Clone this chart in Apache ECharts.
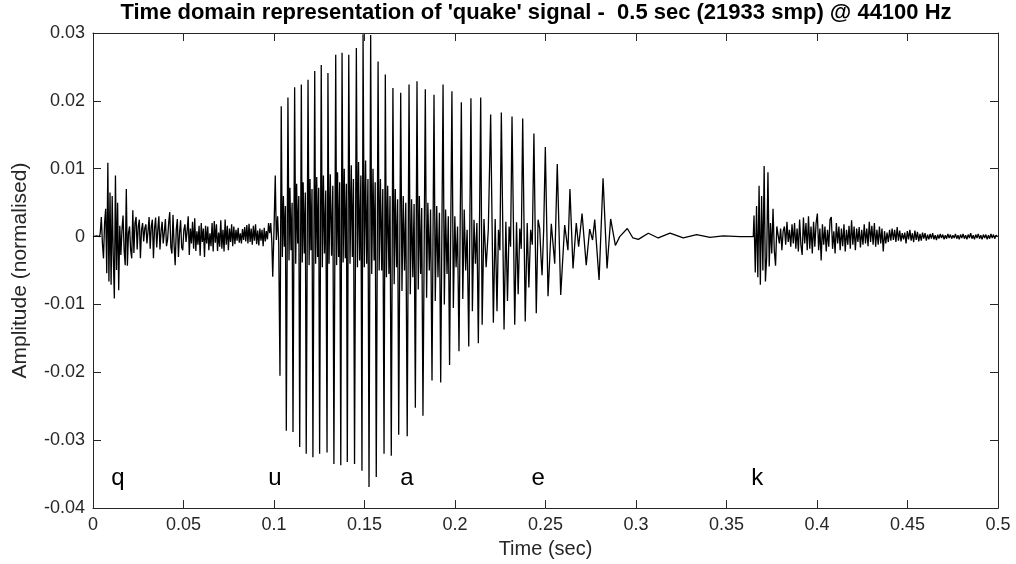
<!DOCTYPE html>
<html>
<head>
<meta charset="utf-8">
<script src="https://cdn.jsdelivr.net/npm/echarts@6/dist/echarts.min.js"></script>
<style>html,body{margin:0;padding:0;background:#fff;}#c{width:1016px;height:564px;}</style>
</head>
<body>
<div id="c"></div>
<script>
// ---- data ----
const titleText = "Time domain representation of 'quake' signal -  0.5 sec (21933 smp) @ 44100 Hz";
const xTicks = { min: 0, max: 0.5, interval: 0.05 };
const yTicks = { min: -0.04, max: 0.03, interval: 0.01 };

// silence before the 'q'
const leadPairs = [[0, 0], [0.0020, 0.0001], [0.0036, 0.0000]];

// 'q' burst: amplitudes sampled every qStep seconds from qStart
const qStart = 0.0040, qStep = 0.0006;
const qAmp = [.0005,.0029,-.0010,-.0032,.0020,.0041,-.0054,.0109,-.0066,.0065,
-.0071,.0060,-.0030,-.0091,.0090,-.0049,.0050,-.0079,.0016,-.0027,
.0010,.0031,-.0020,-.0042,.0070,-.0043,.0005,.0015,-.0020,-.0032,
.0039,-.0024,.0020,.0029,-.0019,.0015,.0025,-.0032,.0010,.0020,
-.0007,.0012,.0018,-.0010,.0008,.0029,-.0018,.0015,.0025,-.0032,
.0012,.0028,-.0016,.0010,.0030,-.0019,.0008,.0022,-.0010,.0006,
.0026,-.0014,-.0005,.0020,.0036,-.0015,-.0025,.0032,-.0012,-.0042,
.0010,.0026,-.0030,.0005,.0024,-.0016,-.0020,.0010,.0018,-.0008,
.0008,.0030,-.0027,.0012,-.0010,.0022,-.0018,.0027,-.0021,.0008,
-.0012,.0016,-.0028,.0020,-.0008,.0012,-.0030,.0016,-.0010,.0015,
-.0020,.0005,-.0014,.0020,-.0022,.0023,-.0009,.0018,-.0021,.0006,
-.0015,.0024,-.0018,.0010,-.0022,.0025,-.0012,.0016,-.0020,.0012,
-.0008,.0018,-.0014,.0015,-.0011,.0010,-.0006,.0013,-.0009,.0005,
-.0010,.0011,-.0005,.0014,-.0007,.0017,-.0010,.0019,-.0008,.0012,
-.0012,.0016,-.0006,.0018,-.0011,.0009,-.0013,.0012,-.0006,.0010,
-.0014,.0013,-.0007,.0008,-.0004,.0020,.0005];

// 'u-a-e' voiced section: [time (s), amplitude]
const vowelPairs = [
[.0982,.0020],[.0988,-.0008],[.0993,-.0059],[.1000,.0010],[.1007,.0090],[.1013,-.0005],[.1020,.0030],[.1026,-.0010],
[.1033,-.0205],[.1040,.0192],[.1046,-.0030],[.1052,.0060],[.1057,-.0015],[.1063,.0045],
[.1068,-.0286],[.1077,.0205],[.1083,-.0035],[.1088,.0072],[.1094,-.0020],[.1100,.0050],
[.1105,-.0288],[.1114,.0220],[.1120,-.0040],[.1125,.0078],[.1131,-.0010],[.1137,.0060],
[.1142,-.0310],[.1151,.0224],[.1156,-.0038],[.1161,.0080],[.1167,-.0025],[.1173,.0065],
[.1178,-.0320],[.1188,.0231],[.1194,-.0042],[.1199,.0085],[.1204,-.0020],[.1210,.0070],
[.1215,-.0325],[.1225,.0244],[.1230,-.0040],[.1236,.0088],[.1241,-.0030],[.1247,.0072],
[.1252,-.0320],[.1261,.0253],[.1267,-.0045],[.1273,.0090],[.1279,-.0025],[.1286,.0068],
[.1293,-.0318],[.1298,.0241],[.1304,-.0040],[.1311,.0092],[.1318,-.0028],[.1325,.0075],
[.1331,-.0335],[.1341,.0268],[.1346,-.0042],[.1351,.0095],[.1357,-.0030],[.1363,.0080],
[.1369,-.0337],[.1376,.0271],[.1382,-.0038],[.1388,.0100],[.1394,-.0032],[.1400,.0078],
[.1405,-.0332],[.1413,.0268],[.1420,-.0040],[.1427,.0105],[.1433,-.0030],[.1439,.0085],
[.1445,-.0335],[.1455,.0278],[.1461,-.0045],[.1467,.0110],[.1473,-.0035],[.1480,.0090],
[.1486,-.0345],[.1492,.0298],[.1499,-.0045],[.1506,.0112],[.1512,-.0040],[.1519,.0085],
[.1525,-.0369],[.1534,.0297],[.1540,-.0055],[.1547,.0100],[.1553,-.0035],[.1559,.0080],
[.1565,-.0354],[.1575,.0258],[.1581,-.0050],[.1588,.0085],[.1595,-.0050],[.1601,.0070],
[.1608,-.0320],[.1615,.0239],[.1621,-.0060],[.1628,.0075],[.1635,-.0055],[.1641,.0060],
[.1648,-.0323],[.1657,.0219],[.1664,-.0070],[.1670,.0070],[.1677,-.0045],[.1683,.0055],
[.1689,-.0292],[.1700,.0212],[.1707,-.0080],[.1714,.0060],[.1721,-.0050],[.1728,.0050],
[.1736,-.0294],[.1746,.0224],[.1753,-.0085],[.1760,.0055],[.1767,-.0060],[.1774,.0048],
[.1781,-.0252],[.1790,.0229],[.1797,-.0078],[.1803,.0060],[.1810,-.0055],[.1816,.0042],
[.1823,-.0264],[.1836,.0217],[.1843,-.0090],[.1850,.0050],[.1858,-.0050],[.1865,.0040],
[.1873,-.0212],[.1884,.0209],[.1891,-.0095],[.1899,.0045],[.1906,-.0060],[.1914,.0035],
[.1921,-.0215],[.1934,.0224],[.1941,-.0100],[.1948,.0040],[.1956,-.0055],[.1963,.0030],
[.1970,-.0189],[.1983,.0214],[.1991,-.0105],[.1999,.0030],[.2006,-.0045],[.2014,.0015],
[.2022,-.0169],[.2035,.0198],[.2043,-.0092],[.2051,.0040],[.2059,-.0050],[.2067,.0010],
[.2076,-.0162],[.2088,.0204],[.2096,-.0110],[.2105,.0025],[.2113,-.0040],[.2121,.0020],
[.2129,-.0157],[.2142,.0205],[.2150,-.0130],[.2160,.0026],[.2172,-.0045],[.2184,.0010],
[.2197,.0180],[.2212,-.0127],[.2222,.0026],[.2232,-.0110],[.2240,.0010],[.2248,-.0020],
[.2256,.0183],[.2271,-.0137],[.2281,.0022],[.2290,-.0095],[.2299,.0015],[.2307,-.0015],
[.2315,.0177],[.2330,-.0130],[.2340,.0021],[.2349,-.0085],[.2358,.0012],[.2366,-.0018],
[.2374,.0174],[.2388,-.0125],[.2399,.0020],[.2408,-.0075],[.2418,.0010],[.2427,-.0012],
[.2436,.0152],[.2449,-.0113],[.2459,.0025],[.2468,.0012],[.2475,-.0030],[.2481,-.0057],[.2490,.0010],
[.2499,.0132],[.2514,-.0088],[.2532,.0019],[.2551,-.0040],
[.2565,.0107],[.2584,-.0086],[.2606,.0017],[.2624,-.0020],
[.2635,.0070],[.2652,-.0047],[.2670,.0020],[.2683,-.0015],
[.2702,.0034],[.2725,-.0042],[.2744,.0011],[.2760,-.0005],[.2772,.0025],
[.2796,-.0064],[.2818,.0086],[.2840,-.0047],[.2860,.0026],[.2886,-.0013],[.2910,.0000],
[.2952,.0012],[.2983,-.0002],[.3013,-.0004],[.3068,.0005],[.3123,-.0002],[.3188,.0005],
[.3261,-.0002],[.3335,.0003],[.3409,-.0001],[.3482,.0001],[.3575,.0000],[.3648,.0000]
];

// 'k' burst and decay: amplitudes sampled every kStep seconds from kStart
const kStart = 0.3652, kStep = 0.0007;
const kAmp = [.0031,-.0053,.0045,-.0060,.0075,-.0071,.0060,-.0050,.0104,-.0066,
-.0030,.0095,-.0044,.0020,-.0025,.0041,-.0020,-.0043,.0015,.0017,
-.0010,.0012,-.0020,.0008,.0015,-.0012,.0022,-.0008,.0010,-.0015,
.0018,-.0010,.0020,-.0018,.0012,-.0022,.0025,-.0012,-.0027,.0028,
-.0010,.0020,-.0020,.0030,-.0018,.0015,-.0025,.0022,-.0015,.0020,
.0034,-.0020,.0012,-.0035,.0018,-.0012,.0015,-.0022,.0010,-.0015,
.0025,.0029,-.0018,.0008,-.0025,.0020,-.0010,.0015,-.0020,.0012,
-.0014,.0018,-.0022,.0010,-.0012,.0016,-.0018,.0024,-.0012,.0015,
-.0020,.0012,-.0008,.0014,-.0016,.0010,-.0012,.0018,-.0010,.0012,
-.0014,.0022,-.0008,.0016,-.0012,.0020,-.0015,.0010,-.0012,.0015,
-.0010,.0012,-.0022,.0008,-.0010,.0006,-.0008,.0010,-.0006,.0012,
-.0005,.0010,-.0008,.0014,-.0006,.0009,-.0007,.0005,-.0004,.0006,
-.0010,.0008,-.0004,.0010,-.0006,.0005,-.0008,.0009,-.0005,.0007,
-.0007,.0004,-.0006,.0006,-.0003,.0005,-.0006,.0003,-.0004,.0004,
-.0003,.0005,-.0004,.0002,-.0005,.0003,-.0003,.0004,-.0002,.0003,
-.0004,.0002,-.0003,.0004,-.0002,.0003,-.0003,.0002,-.0002,.0004,
-.0003,.0002,-.0004,.0003,-.0002,.0004,-.0003,.0002,-.0004,.0003,
-.0002,.0005,-.0003,.0002,-.0004,.0003,-.0002,.0004,-.0003,.0002,
-.0004,.0003,-.0002,.0003,-.0004,.0002,-.0003,.0004,-.0002,.0003,
-.0003,.0002,.0001];

// phoneme annotations
const phonemes = ['q', 'u', 'a', 'e', 'k'];
const phonemeTimes = [0.0138, 0.1005, 0.1735, 0.2459, 0.3670];
const phonemeLevel = -0.0356;

// ---- build series data ----
const wave = [];
leadPairs.forEach(p => wave.push(p));
qAmp.forEach((v, i) => wave.push([+(qStart + i * qStep).toFixed(5), v]));
vowelPairs.forEach(p => wave.push(p));
kAmp.forEach((v, i) => wave.push([+(kStart + i * kStep).toFixed(5), v]));

const labelData = phonemes.map((p, i) => ({ value: [phonemeTimes[i], phonemeLevel], name: p }));

const fmt = v => String(+(+v).toFixed(3));
const FONT = 'Liberation Sans, Arial, Helvetica, sans-serif';
const AX = '#262626';

const chart = echarts.init(document.getElementById('c'), null, { renderer: 'canvas' });
chart.setOption({
  animation: false,
  backgroundColor: '#fff',
  title: {
    text: titleText,
    left: 536, top: 0, textAlign: 'center', padding: [2, 0, 0, 0],
    textStyle: { fontFamily: FONT, fontWeight: 'bold', fontSize: 22, color: '#000' }
  },
  grid: { left: 93, right: 18, top: 33, bottom: 53 },
  xAxis: [{
    type: 'value', min: xTicks.min, max: xTicks.max, interval: xTicks.interval,
    name: 'Time (sec)', nameLocation: 'middle', nameGap: 29,
    nameTextStyle: { fontFamily: FONT, fontSize: 20, color: AX },
    axisLine: { show: true, onZero: false, lineStyle: { color: AX, width: 1 } },
    axisTick: { show: true, inside: true, length: 8, lineStyle: { color: AX } },
    axisLabel: { formatter: fmt, fontFamily: FONT, fontSize: 18, color: AX, margin: 8 },
    splitLine: { show: false }
  }, {
    type: 'value', position: 'top', min: xTicks.min, max: xTicks.max, interval: xTicks.interval,
    axisLine: { show: true, onZero: false, lineStyle: { color: AX, width: 1 } },
    axisTick: { show: true, inside: true, length: 8, lineStyle: { color: AX } },
    axisLabel: { show: false }, splitLine: { show: false }
  }],
  yAxis: [{
    type: 'value', min: yTicks.min, max: yTicks.max, interval: yTicks.interval,
    name: 'Amplitude (normalised)', nameLocation: 'middle', nameGap: 62,
    nameTextStyle: { fontFamily: FONT, fontSize: 21, color: AX },
    axisLine: { show: true, onZero: false, lineStyle: { color: AX, width: 1 } },
    axisTick: { show: true, inside: true, length: 8, lineStyle: { color: AX } },
    axisLabel: { formatter: fmt, fontFamily: FONT, fontSize: 18, color: AX, margin: 8 },
    splitLine: { show: false }
  }, {
    type: 'value', position: 'right', min: yTicks.min, max: yTicks.max, interval: yTicks.interval,
    axisLine: { show: true, onZero: false, lineStyle: { color: AX, width: 1 } },
    axisTick: { show: true, inside: true, length: 8, lineStyle: { color: AX } },
    axisLabel: { show: false }, splitLine: { show: false }
  }],
  series: [{
    type: 'line', data: wave, xAxisIndex: 0, yAxisIndex: 0,
    showSymbol: false, symbol: 'none', sampling: false, clip: true,
    lineStyle: { color: '#000', width: 1.3 }, silent: true
  }, {
    type: 'scatter', data: labelData, xAxisIndex: 0, yAxisIndex: 0,
    symbolSize: 0, silent: true, itemStyle: { opacity: 1 },
    label: { show: true, position: 'inside', formatter: p => p.name, opacity: 1,
      fontFamily: FONT, fontSize: 24, color: '#000', textBorderWidth: 0 }
  }]
});
</script>
</body>
</html>
